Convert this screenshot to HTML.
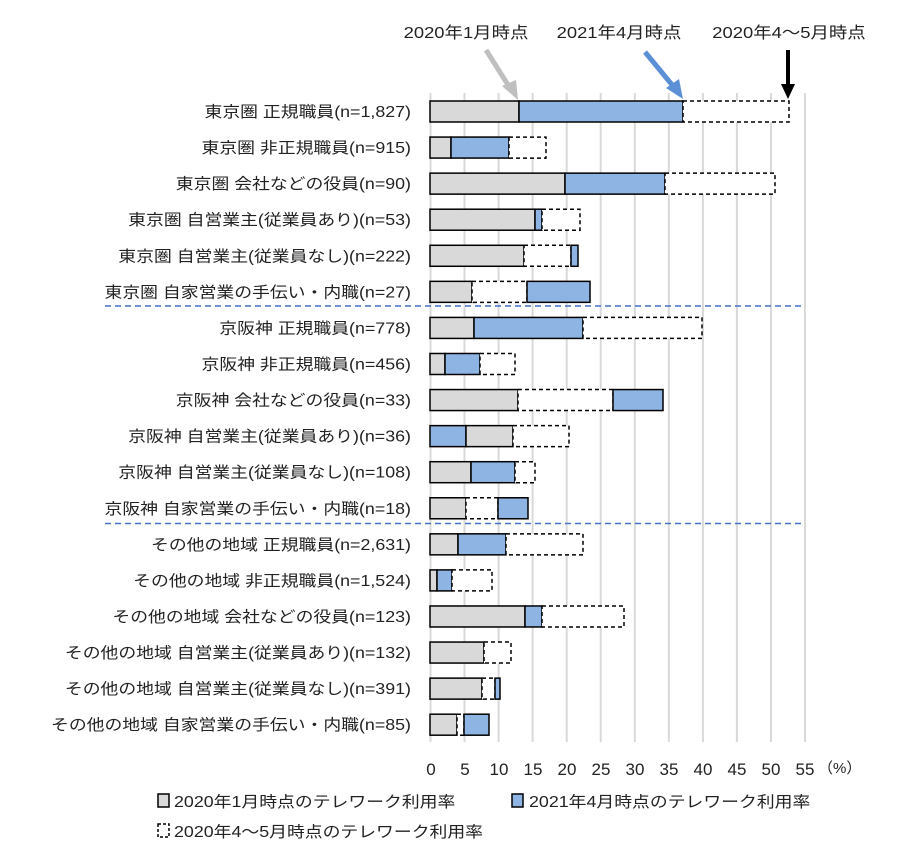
<!DOCTYPE html>
<html><head><meta charset="utf-8"><style>
body{margin:0;background:#fff;}
svg text{font-family:"Liberation Sans","Noto Sans CJK JP",sans-serif;fill:#222;}
</style></head><body>
<svg width="918" height="857" viewBox="0 0 918 857" xmlns="http://www.w3.org/2000/svg">
<g stroke="#d9d9d9" stroke-width="2">
<line x1="430.5" y1="93" x2="430.5" y2="742"/><line x1="464.5" y1="93" x2="464.5" y2="742"/><line x1="498.6" y1="93" x2="498.6" y2="742"/><line x1="532.6" y1="93" x2="532.6" y2="742"/><line x1="566.7" y1="93" x2="566.7" y2="742"/><line x1="600.7" y1="93" x2="600.7" y2="742"/><line x1="634.8" y1="93" x2="634.8" y2="742"/><line x1="668.8" y1="93" x2="668.8" y2="742"/><line x1="702.9" y1="93" x2="702.9" y2="742"/><line x1="736.9" y1="93" x2="736.9" y2="742"/><line x1="771" y1="93" x2="771" y2="742"/><line x1="805" y1="93" x2="805" y2="742"/>
</g>
<g stroke="#4472c4" stroke-width="1.5" stroke-dasharray="6,4">
<line x1="105" y1="306" x2="805" y2="306"/><line x1="105" y1="523.5" x2="805" y2="523.5"/>
</g>
<g id="bars" stroke="#000" stroke-width="1.5"></g>
<g id="labels" font-size="15.5" text-anchor="end"></g>
<g font-size="17" text-anchor="middle" fill="#444">
<text x="431" y="775">0</text><text x="465" y="775">5</text><text x="499" y="775">10</text><text x="533" y="775">15</text><text x="567" y="775">20</text><text x="601" y="775">25</text><text x="635" y="775">30</text><text x="669" y="775">35</text><text x="703" y="775">40</text><text x="737" y="775">45</text><text x="771" y="775">50</text><text x="805" y="775">55</text>
</g>
<text x="818" y="773" font-size="15">（%）</text>
<g font-size="16" text-anchor="middle" class="sc">
<text x="466" y="38">2020年1月時点</text><text x="619" y="38">2021年4月時点</text><text x="789" y="38">2020年4～5月時点</text>
</g>
<line x1="486" y1="50" x2="510" y2="88" stroke="#bfbfbf" stroke-width="5"/>
<polygon points="518,100 502,86 516,80" fill="#bfbfbf"/>
<line x1="645" y1="52" x2="673" y2="86" stroke="#5b8fd6" stroke-width="5"/>
<polygon points="683,99 666,88 679,79" fill="#5b8fd6"/>
<line x1="788" y1="50" x2="788" y2="86" stroke="#000" stroke-width="4"/>
<polygon points="788,99 781,84 795,84" fill="#000"/>
<g font-size="15.5" class="sc">
<rect x="158" y="794" width="11" height="13" fill="#d9d9d9" stroke="#000" stroke-width="1.5"/>
<text x="174" y="807">2020年1月時点のテレワーク利用率</text>
<rect x="512" y="794" width="11" height="13" fill="#8eb4e3" stroke="#000" stroke-width="1.5"/>
<text x="529" y="807">2021年4月時点のテレワーク利用率</text>
<rect x="158" y="824" width="11" height="13" fill="#fff" stroke="#000" stroke-width="1.5" stroke-dasharray="3,2"/>
<text x="174" y="837">2020年4～5月時点のテレワーク利用率</text>
</g>
</svg>
<script>
var rows=[
["東京圏 正規職員(n=1,827)",[["g",430,519],["b",519,683],["d",683,789]]],
["東京圏 非正規職員(n=915)",[["g",430,451],["b",451,509],["d",509,546]]],
["東京圏 会社などの役員(n=90)",[["g",430,565],["b",565,665],["d",665,775]]],
["東京圏 自営業主(従業員あり)(n=53)",[["g",430,535],["b",535,542],["d",542,580]]],
["東京圏 自営業主(従業員なし)(n=222)",[["g",430,524],["d",524,571],["b",571,578]]],
["東京圏 自家営業の手伝い・内職(n=27)",[["g",430,472],["d",472,527],["b",527,590]]],
["京阪神 正規職員(n=778)",[["g",430,474],["b",474,583],["d",583,702]]],
["京阪神 非正規職員(n=456)",[["g",430,445],["b",445,480],["d",480,515]]],
["京阪神 会社などの役員(n=33)",[["g",430,518],["d",518,613],["b",613,663]]],
["京阪神 自営業主(従業員あり)(n=36)",[["b",430,466],["g",466,513],["d",513,569]]],
["京阪神 自営業主(従業員なし)(n=108)",[["g",430,471],["b",471,515],["d",515,535]]],
["京阪神 自家営業の手伝い・内職(n=18)",[["g",430,466],["d",466,498],["b",498,528]]],
["その他の地域 正規職員(n=2,631)",[["g",430,458],["b",458,506],["d",506,583]]],
["その他の地域 非正規職員(n=1,524)",[["g",430,437],["b",437,452],["d",452,492]]],
["その他の地域 会社などの役員(n=123)",[["g",430,525],["b",525,542],["d",542,624]]],
["その他の地域 自営業主(従業員あり)(n=132)",[["g",430,484],["d",484,511]]],
["その他の地域 自営業主(従業員なし)(n=391)",[["g",430,482],["d",482,495],["b",495,500]]],
["その他の地域 自家営業の手伝い・内職(n=85)",[["g",430,457],["d",457,464],["b",464,489]]]
];
var ns="http://www.w3.org/2000/svg",B=document.getElementById("bars"),L=document.getElementById("labels");
rows.forEach(function(r,i){
 var cy=111.5+36.07*i;
 var t=document.createElementNS(ns,"text");t.setAttribute("x",411);t.setAttribute("y",cy+5.5);t.setAttribute("class","s2");t.textContent=r[0];L.appendChild(t);
 r[1].forEach(function(s){
  var e=document.createElementNS(ns,"rect");
  e.setAttribute("x",s[1]);e.setAttribute("y",cy-10.5);e.setAttribute("width",s[2]-s[1]);e.setAttribute("height",21);
  e.setAttribute("fill",s[0]=="g"?"#d9d9d9":s[0]=="b"?"#8eb4e3":"#fff");
  if(s[0]=="d")e.setAttribute("stroke-dasharray","4,3");
  B.appendChild(e);
 });
});
var ts=document.querySelectorAll("#labels text, .sc text");
for(var k=0;k<ts.length;k++){var w=ts[k].getComputedTextLength();ts[k].setAttribute("textLength",(w*1.15).toFixed(1));ts[k].setAttribute("lengthAdjust","spacingAndGlyphs");}
</script>
</body></html>
